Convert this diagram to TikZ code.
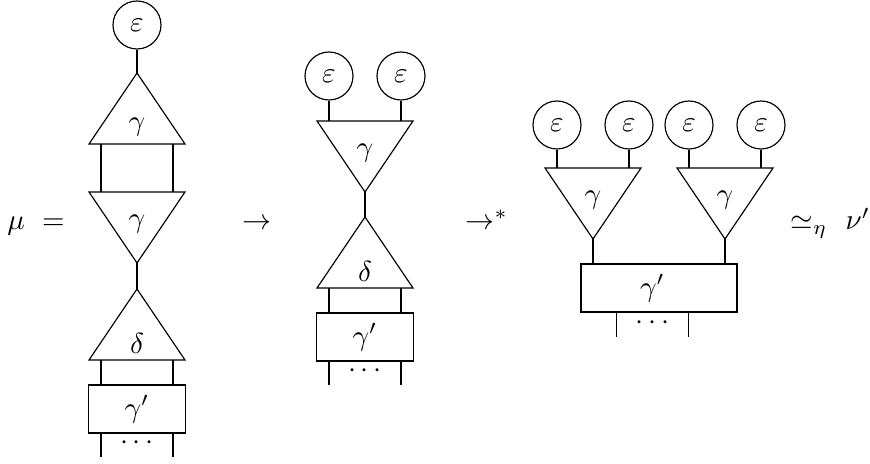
\documentclass[tikz,border=0pt]{standalone}
\usetikzlibrary{calc}
\begin{document}
\begin{tikzpicture}[x=0.345pt,y=-0.345pt,
  every node/.style={inner sep=0pt},
  eps/.style={circle,draw,minimum size=16.56pt,inner sep=0pt},
  boxst/.style={draw,rectangle,minimum height=16.56pt,inner sep=0pt},
  wire/.style={draw},
  pics/uptri/.style={code={
    \draw (0,0) coordinate (-apex) -- (48,71) -- (-48,71) -- cycle;
    \coordinate (-l) at (-36,71); \coordinate (-r) at (36,71);
    \node (-lab) at (0,54) {$#1$};}},
  pics/downtri/.style={code={
    \draw (0,0) coordinate (-apex) -- (48,-71) -- (-48,-71) -- cycle;
    \coordinate (-l) at (-36,-71); \coordinate (-r) at (36,-71);
    \node (-lab) at (0,-39) {$#1$};}},
]
\useasboundingbox (0,0) rectangle (870,464);

% ---------- main line text ----------
\node[anchor=base] (mu) at (16,230) {$\mu$};
\node[anchor=base] (eq) at (53.5,230) {$=$};
\node[anchor=base] (ar1) at (256.5,230) {$\rightarrow$};
\node[anchor=base west] (ar2) at (465,230) {$\rightarrow^{*}$};
\node[anchor=base west] (sim) at (790,230) {$\simeq_{\eta}$};
\node[anchor=base west] (nu) at (845,230) {$\nu'$};

% ---------- diagram 1 ----------
\node[eps] (e0) at (137,25) {$\varepsilon$};
\pic (t1) at (137,73) {uptri=\gamma};
\pic (t2) at (137,263) {downtri=\gamma};
\pic (t3) at (137,289) {uptri=\delta};
\node[boxst,minimum width=33.5pt] (b1) at (137,409) {$\gamma'$};
\coordinate (w1l) at (101,457);
\coordinate (w1r) at (173,457);
\draw (e0.south) -- (t1-apex);
\draw (t1-l) -- (t2-l);
\draw (t1-r) -- (t2-r);
\draw (t2-apex) -- (t3-apex);
\draw (t3-l) -- (t3-l |- b1.north);
\draw (t3-r) -- (t3-r |- b1.north);
\draw (w1l |- b1.south) -- (w1l);
\draw (w1r |- b1.south) -- (w1r);
\node[anchor=base] (d1) at (137,450) {$\cdots$};

% ---------- diagram 2 ----------
\node[eps] (e1) at (329,76) {$\varepsilon$};
\node[eps] (e2) at (401,76) {$\varepsilon$};
\pic (t4) at (365,192) {downtri=\gamma};
\pic (t5) at (365,217) {uptri=\delta};
\node[boxst,minimum width=33.5pt] (b2) at (365,337) {$\gamma'$};
\coordinate (w2l) at (329,385);
\coordinate (w2r) at (401,385);
\draw (e1.south) -- (t4-l);
\draw (e2.south) -- (t4-r);
\draw (t4-apex) -- (t5-apex);
\draw (t5-l) -- (t5-l |- b2.north);
\draw (t5-r) -- (t5-r |- b2.north);
\draw (w2l |- b2.south) -- (w2l);
\draw (w2r |- b2.south) -- (w2r);
\node[anchor=base] (d2) at (365,378) {$\cdots$};

% ---------- diagram 3 ----------
\node[eps] (e3) at (557,125) {$\varepsilon$};
\node[eps] (e4) at (629,125) {$\varepsilon$};
\node[eps] (e5) at (689,125) {$\varepsilon$};
\node[eps] (e6) at (761,125) {$\varepsilon$};
\pic (t6) at (593,239) {downtri=\gamma};
\pic (t7) at (725,239) {downtri=\gamma};
\node[boxst,minimum width=53.8pt] (b3) at (659,288) {};
\node (b3lab) at (652.5,288) {$\gamma'$};
\coordinate (w3l) at (616.5,337);
\coordinate (w3r) at (688.5,337);
\draw (e3.south) -- (t6-l);
\draw (e4.south) -- (t6-r);
\draw (e5.south) -- (t7-l);
\draw (e6.south) -- (t7-r);
\draw (t6-apex) -- (t6-apex |- b3.north);
\draw (t7-apex) -- (t7-apex |- b3.north);
\draw (w3l |- b3.south) -- (w3l);
\draw (w3r |- b3.south) -- (w3r);
\node[anchor=base] (d3) at (652.5,330) {$\cdots$};
\end{tikzpicture}
\end{document}
